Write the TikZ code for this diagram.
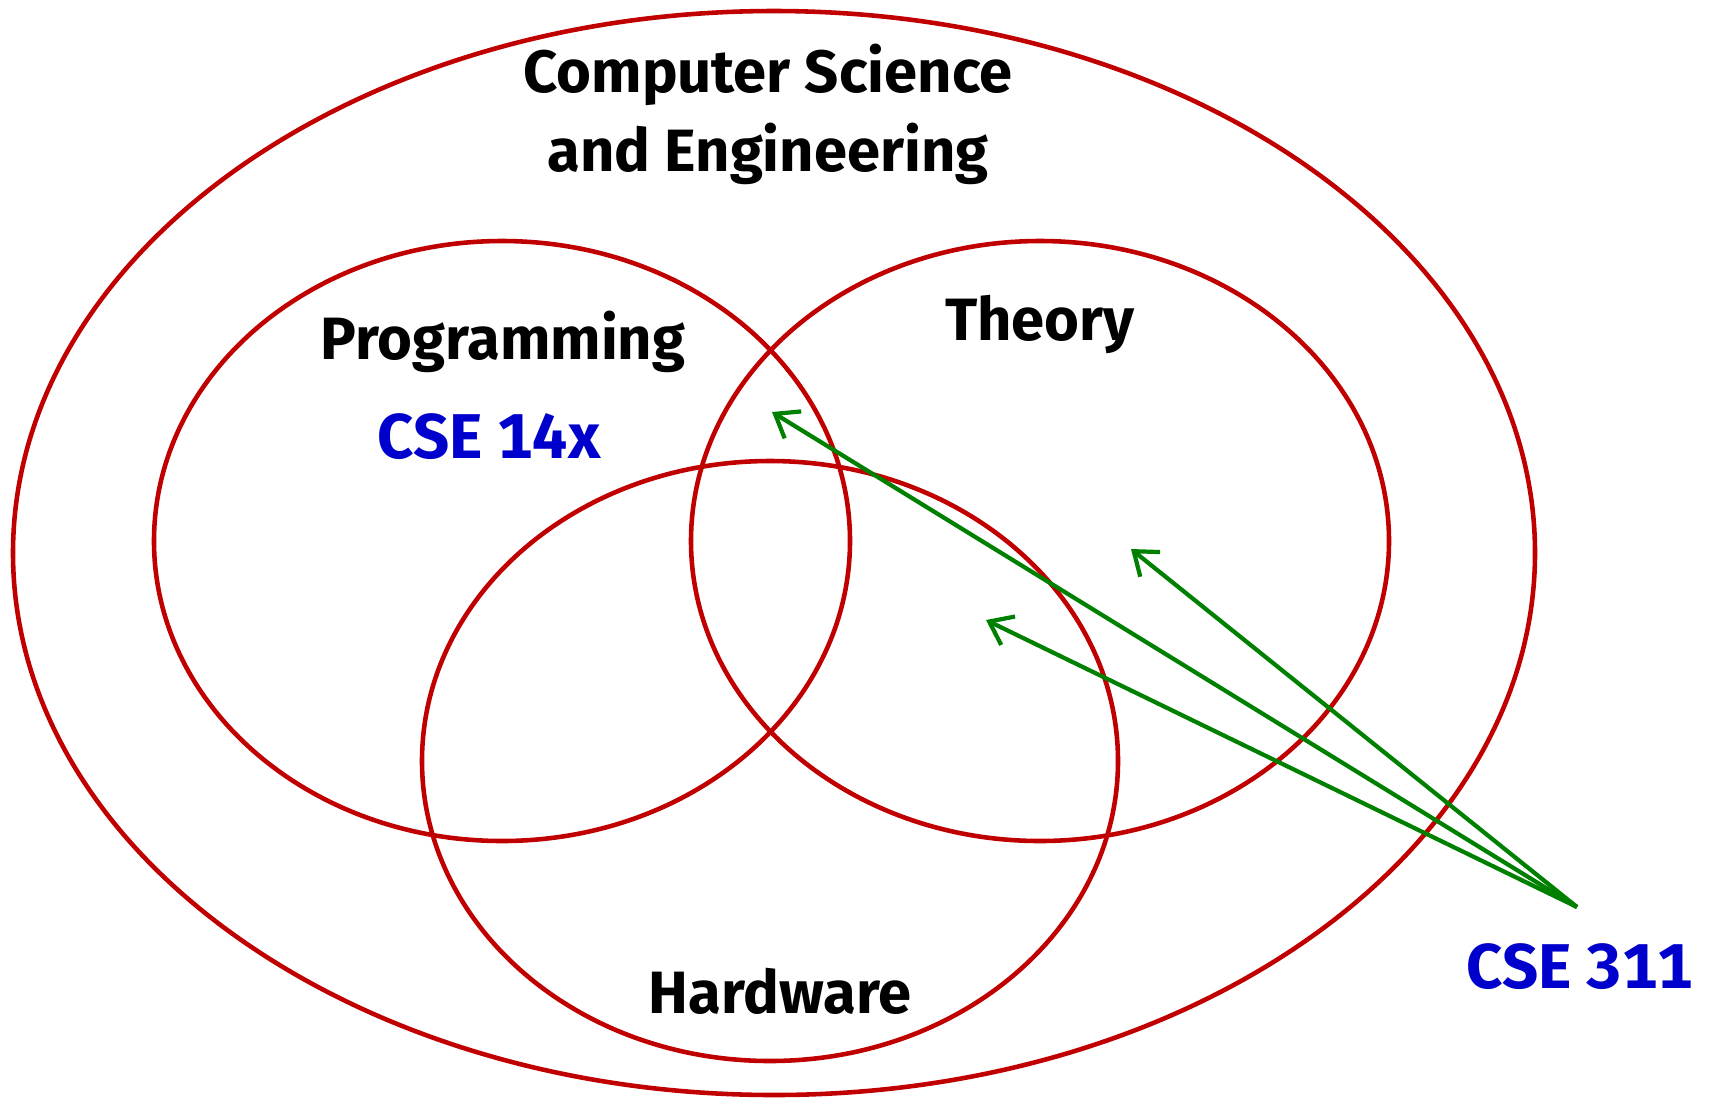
\documentclass[tikz,border=0pt]{standalone}
\usepackage{fontspec}
\setmainfont{Fira Sans}[Numbers=Monospaced]
\usetikzlibrary{arrows.meta}
\definecolor{setred}{RGB}{192,0,0}
\definecolor{arrgreen}{RGB}{0,128,0}
\definecolor{cseblue}{RGB}{0,0,204}
\begin{document}
\begin{tikzpicture}[x=0.02cm, y=0.02cm,
    setline/.style={draw=setred, line width=2.6pt},
    arrline/.style={draw=arrgreen, line width=2.4pt, -{Straight Barb[length=12pt,width=18pt]}},
    lbl/.style={font=\fontsize{34}{45}\selectfont\bfseries, inner sep=0pt, align=center},
    course/.style={lbl, font=\fontsize{36}{45}\selectfont\bfseries, text=cseblue}]
    \useasboundingbox (0,0) rectangle (1714,-1100);
    \draw [setline] (774,-553) ellipse [x radius=761, y radius=542];
    \draw [setline] (502,-541) ellipse [x radius=348, y radius=300];
    \draw [setline] (1040,-541) ellipse [x radius=349, y radius=300];
    \draw [setline] (770,-761) ellipse [x radius=348, y radius=300];
    \node [lbl] (cse) at (768,-114) {Computer Science\\and Engineering};
    \node [lbl] (prog) at (503,-342) {Programming};
    \node [lbl] (theory) at (1040,-324) {Theory};
    \node [lbl] (hw) at (780,-991) {Hardware};
    \node [course] (c14x) at (489,-437) {CSE 14x};
    \node [course] (c311) at (1580,-967) {CSE 311};
    \coordinate (src) at (1577,-907);
    \coordinate (tgtall) at (772,-412);
    \coordinate (tgttheory) at (1131,-549);
    \coordinate (tgthw) at (986,-620);
    \draw [arrline] (src) -- (tgtall);
    \draw [arrline] (src) -- (tgttheory);
    \draw [arrline] (src) -- (tgthw);
\end{tikzpicture}
\end{document}
